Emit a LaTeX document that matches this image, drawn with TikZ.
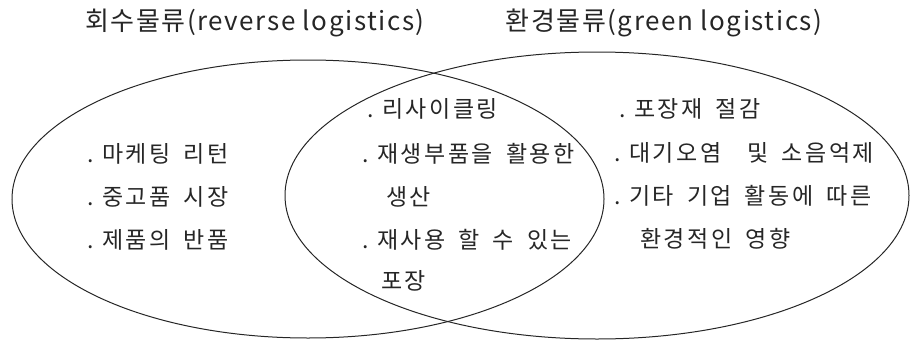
\documentclass[tikz,border=0pt]{standalone}
\usepackage{fontspec}
\setmainfont{Noto Sans CJK KR}
\newfontfamily\bodyfont[LetterSpace=11,WordSpace=1.7]{Noto Sans CJK KR}
\newfontfamily\headfont[LetterSpace=6]{Noto Sans CJK KR}
\newcommand\dotlead{.\kern 8.5pt}
\usetikzlibrary{shapes.geometric}
\begin{document}
\begin{tikzpicture}[x=1pt,y=-1pt,
  setellipse/.style={draw=black!85, line width=1pt, ellipse, inner sep=0pt},
  headtext/.style={font=\headfont\fontsize{26}{29}\selectfont, inner sep=0pt, text=black!85},
  itemtext/.style={font=\bodyfont\fontsize{23}{27}\selectfont, inner sep=0pt, anchor=west, text=black!85}]
\useasboundingbox (0,0) rectangle (910,340);
\node[setellipse, minimum width=592pt, minimum height=278pt] (rev) at (308,199) {};
\node[setellipse, minimum width=624pt, minimum height=287pt] (grn) at (597,195.5) {};
\node[headtext] (revtitle) at (255,23) {회수물류(reverse logistics)};
\node[headtext] (grntitle) at (664,23) {환경물류(green logistics)};
% left
\node[itemtext] (l1) at (87,154) {\dotlead 마케팅 리턴};
\node[itemtext] (l2) at (87,197) {\dotlead 중고품 시장};
\node[itemtext] (l3) at (87,240) {\dotlead 제품의 반품};
% middle
\node[itemtext] (m1) at (367,109) {\dotlead 리사이클링};
\node[itemtext] (m2) at (362,154) {\dotlead 재생부품을 활용한};
\node[itemtext] (m3) at (386,197) {생산};
\node[itemtext] (m4) at (362,240) {\dotlead 재사용 할 수 있는};
\node[itemtext] (m5) at (381,281) {포장};
% right
\node[itemtext] (r1) at (619,109) {\dotlead 포장재 절감};
\node[itemtext] (r2) at (614,153) {\dotlead 대기오염\ \ 및 소음억제};
\node[itemtext] (r3) at (614,196) {\dotlead 기타 기업 활동에 따른};
\node[itemtext] (r4) at (640,239) {환경적인 영향};
\end{tikzpicture}
\end{document}
